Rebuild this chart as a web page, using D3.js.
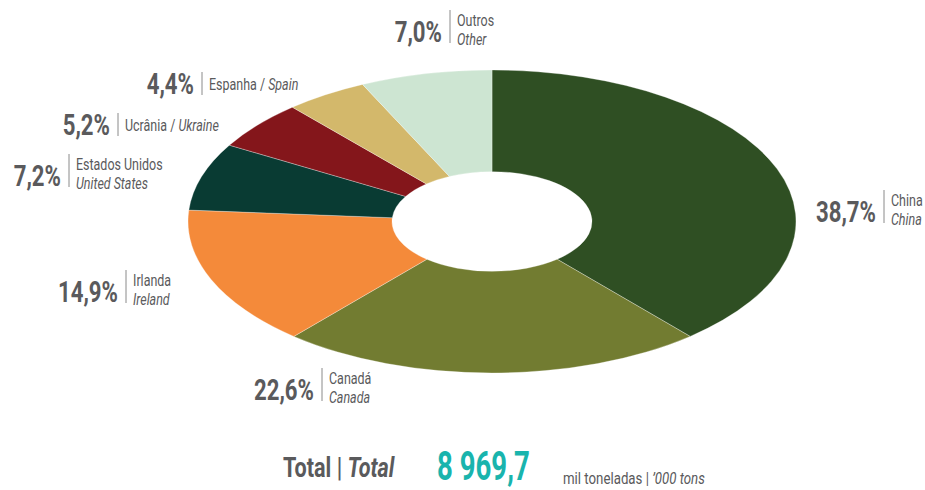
<!DOCTYPE html>
<html>
<head>
<meta charset="utf-8">
<script src="https://cdn.jsdelivr.net/npm/d3@7"></script>
<style>
  body { margin: 0; background: #fff; }
  text { font-family: "Roboto", "DejaVu Sans Condensed", sans-serif; fill: #5a5a5c; }
</style>
</head>
<body>
<div id="container"></div>
<script>
const namesPt = ["China", "Canadá", "Irlanda", "Estados Unidos", "Ucrânia", "Espanha", "Outros"];
const namesEn = ["China", "Canada", "Ireland", "United States", "Ukraine", "Spain", "Other"];
const shares = [38.7, 22.6, 14.9, 7.2, 5.2, 4.4, 7.0];
const colors = ["#2f4f23", "#727c31", "#f48a3a", "#093b33", "#84161b", "#d3b86b", "#cde5d2"];
const totalValue = "8 969,7";

const width = 925;
const height = 490;
const cx = 492;
const cy = 221.5;
const rx = 304;
const ry = 151.5;
const holeRatio = 0.329;

// no condensed font installed, so text is squeezed horizontally
const squeeze = 0.74;

// label anchor = x of the divider line, y of the percent baseline; oneLine = name on one row
const labelLayout = [
  { x: 884, y: 222, oneLine: false },
  { x: 322, y: 400, oneLine: false },
  { x: 126, y: 302, oneLine: false },
  { x: 69, y: 186, oneLine: false },
  { x: 118, y: 135, oneLine: true },
  { x: 202, y: 94, oneLine: true },
  { x: 450, y: 42, oneLine: false }
];

const svg = d3.create("svg")
  .attr("width", width)
  .attr("height", height);

const pie = d3.pie().sort(null).value(d => d);
const arc = d3.arc().outerRadius(ry).innerRadius(ry * holeRatio);

svg.append("g")
  .attr("transform", `translate(${cx},${cy}) scale(${rx / ry},1)`)
  .selectAll("path")
  .data(pie(shares))
  .join("path")
  .attr("d", arc)
  .attr("fill", (d, i) => colors[i])
  .attr("stroke", "#ffffff")
  .attr("stroke-opacity", 0.5)
  .attr("stroke-width", 0.6)
  .attr("vector-effect", "non-scaling-stroke");

const fmt = v => v.toFixed(1).replace(".", ",") + "%";

const squeezed = (parent, x, y, sx) =>
  parent.append("g")
    .attr("transform", `translate(${x},${y}) scale(${sx},1)`)
    .append("text");

const labels = svg.append("g")
  .selectAll("g")
  .data(shares)
  .join("g")
  .attr("transform", (d, i) => `translate(${labelLayout[i].x},${labelLayout[i].y})`);

labels.each(function(d, i) {
  const g = d3.select(this);
  const lay = labelLayout[i];

  squeezed(g, -8, 0, squeeze)
    .attr("text-anchor", "end")
    .attr("font-size", 30)
    .attr("font-weight", "bold")
    .text(fmt(d));

  g.append("line")
    .attr("y1", lay.oneLine ? -22 : -32)
    .attr("y2", 1)
    .attr("stroke", "#8a8a8a")
    .attr("stroke-width", 1);

  if (lay.oneLine) {
    const t = squeezed(g, 7, -4, 0.78).attr("font-size", 16);
    t.append("tspan").text(namesPt[i] + " / ");
    t.append("tspan").attr("font-style", "italic").text(namesEn[i]);
  } else {
    squeezed(g, 7, -16.5, 0.78).attr("font-size", 16).text(namesPt[i]);
    squeezed(g, 7, 2.5, 0.78).attr("font-size", 16)
      .attr("font-style", "italic").text(namesEn[i]);
  }
});

const total = squeezed(svg, 283, 477, 0.8)
  .attr("font-size", 27)
  .attr("font-weight", "bold");
total.append("tspan").text("Total | ");
total.append("tspan").attr("font-style", "italic").text("Total");

squeezed(svg, 437, 480, 0.69)
  .attr("font-size", 40)
  .attr("font-weight", "bold")
  .style("fill", "#19b4ad")
  .text(totalValue);

const unit = squeezed(svg, 563, 484, 0.78)
  .attr("font-size", 17);
unit.append("tspan").text("mil toneladas | ");
unit.append("tspan").attr("font-style", "italic").text("’000 tons");

d3.select("#container").append(() => svg.node());
</script>
</body>
</html>
